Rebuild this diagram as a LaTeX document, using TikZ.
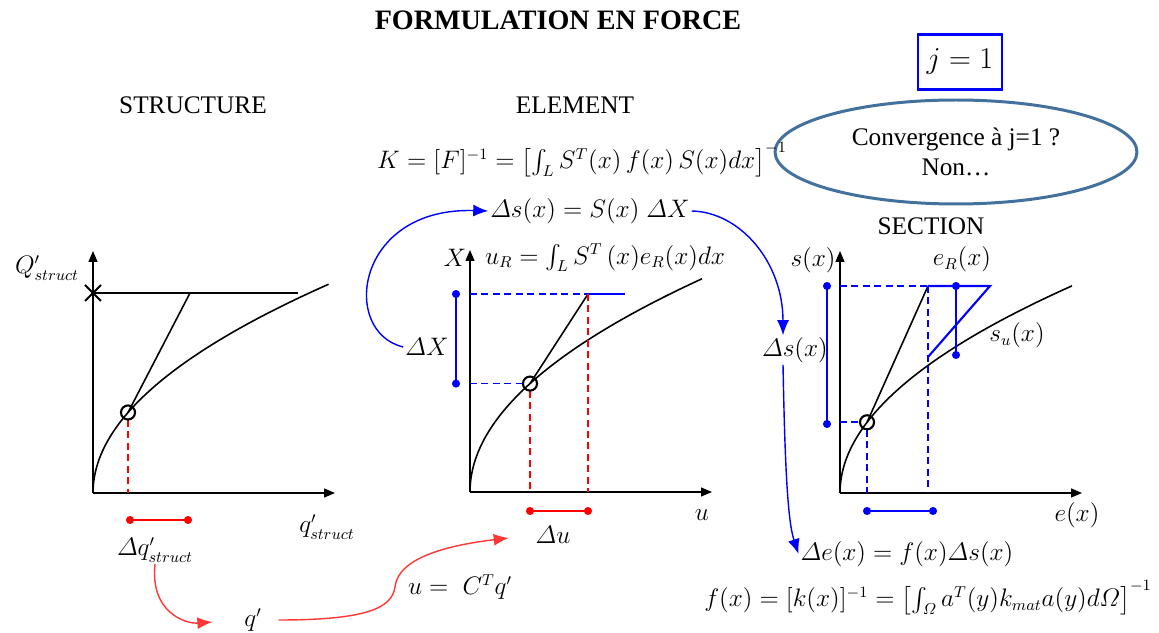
\documentclass[tikz,border=0pt]{standalone}
\usepackage{amsmath,amssymb}
\usepackage{fontspec}
\setmainfont{Liberation Serif}
\usepackage{tikz}
\usetikzlibrary{arrows.meta,shapes.geometric,positioning}
\definecolor{ellblue}{RGB}{65,113,156}
\definecolor{arrred}{RGB}{255,55,55}

\begin{document}
\begin{tikzpicture}[x=0.02cm,y=0.02cm,
  ax/.style={-{Triangle[length=2.2mm,width=1.8mm]},line width=0.8pt},
  crv/.style={line width=0.9pt},
  bdash/.style={blue,line width=1pt,dash pattern=on 4pt off 2.5pt},
  rdash/.style={red,line width=1pt,dash pattern=on 4pt off 2.5pt},
  bbar/.style={blue,line width=1.2pt},
  rbar/.style={red,line width=1.2pt},
  lbl/.style={font=\fontsize{13.5}{17}\selectfont,inner sep=1pt},
  txt/.style={font=\fontsize{14.4}{17.5}\selectfont,inner sep=1pt},
  barr/.style={-{Latex[length=3mm,width=2.4mm]},blue,line width=0.8pt},
  rarr/.style={-{Latex[length=3mm,width=2.4mm]},arrred,line width=0.8pt}]
  \useasboundingbox (0,0) rectangle (1159,632);
  %% titles
  \node[font=\fontsize{16}{19}\selectfont\bfseries] (title) at (558,612) {FORMULATION EN FORCE};
  \node[txt] (structure) at (193,527) {STRUCTURE};
  \node[txt] (element) at (575,527) {ELEMENT};
  \node[txt] (section) at (931,406) {SECTION};
  \node[draw=blue,line width=1.2pt,minimum width=1.68cm,minimum height=1.1cm,
        font=\fontsize{19}{22}\selectfont] (jbox) at (960,570) {$j=1$};
  \node[txt,ellipse,draw=ellblue,line width=1.7pt,minimum width=7.24cm,minimum height=2.08cm,
        align=center] (conv) at (956,480) {Convergence à j=1 ?\\Non\ldots};
  \node[lbl] (Kform) at (582,472) {$K=[F]^{-1}=\bigl[\int_L S^T(x)\,f(x)\,S(x)dx\bigr]^{-1}$};
  \node[lbl] (dsform) at (590,421) {$\varDelta s(x)=S(x)\;\varDelta X$};

  %% Structure
  \begin{scope}[shift={(93,139)}]
    \draw[ax] (0,0)--(0,242);
    \draw[ax] (0,0)--(242,0);
    % plateau
    \draw[crv] (0,200)--(205,200);
    % loi globale
    \draw[crv] plot[domain=0:15.35,samples=40,smooth] ({\x*\x},{13.6*\x});
    % tangente
    \draw[crv] (35,80.5)--(97,200);
    \draw[rdash] (35,73)--(35,0);
    \draw[line width=1.2pt] (35,80.5) circle (4pt);
    \draw[line width=1.1pt] (-8,192)--(8,208) (-8,208)--(8,192);
    % increment
    \draw[rbar] (37,-27)--(95,-27);
    \fill[red] (37,-27) circle (2.3pt) (95,-27) circle (2.3pt);
    \node[lbl] (Qs) at (-46,225) {$Q'_{struct}$};
    \node[lbl] (qs) at (234,-34) {$q'_{struct}$};
    \node[lbl] (dq) at (62,-57) {$\varDelta q'_{struct}$};
  \end{scope}

  %% Element
  \begin{scope}[shift={(470,140)}]
    \draw[ax] (0,0)--(0,242);
    \draw[ax] (0,0)--(242,0);
    \draw[crv] plot[domain=0:15.23,samples=40,smooth] ({\x*\x},{14*\x});
    \draw[crv] (60,108.4)--(118,198);
    % effort
    \draw[bdash] (0,198)--(118,198);
    \draw[bbar] (118,198)--(155,198);
    \draw[bdash] (0,108.4)--(53,108.4);
    \draw[bbar] (-14,108.4)--(-14,198);
    \fill[blue] (-14,108.4) circle (2.3pt) (-14,198) circle (2.3pt);
    % deplacement
    \draw[rdash] (60,101)--(60,0);
    \draw[rdash] (118,198)--(118,0);
    \draw[rbar] (60,-19)--(118,-19);
    \fill[red] (60,-19) circle (2.3pt) (118,-19) circle (2.3pt);
    \draw[line width=1.2pt] (60,108.4) circle (4pt);
    \node[lbl] (X) at (-15,234) {$X$};
    \node[lbl] (uR) at (135,234) {$u_R=\int_L S^T\,(x)e_R(x)dx$};
    \node[lbl] (dX) at (-43,145) {$\varDelta X$};
    \node[lbl] (du) at (83,-43) {$\varDelta u$};
    \node[lbl] (u) at (232,-23) {$u$};
  \end{scope}

  %% Section
  \begin{scope}[shift={(840,139)}]
    \draw[ax] (0,0)--(0,242);
    \draw[ax] (0,0)--(242,0);
    \draw[crv] plot[domain=0:15.23,samples=40,smooth] ({\x*\x},{13.6*\x});
    \draw[crv] (27,70.7)--(88,207);
    \draw[bdash] (0,207)--(88,207);
    \draw[bbar] (88,207)--(150,207)--(88,136);
    \draw[bbar] (116,207)--(116,138);
    \fill[blue] (116,207) circle (2.3pt) (116,138) circle (2.3pt);
    \draw[bdash] (0,70.7)--(20,70.7);
    \draw[bdash] (27,63)--(27,0);
    \draw[bdash] (88,207)--(88,0);
    \draw[bbar] (-13,207)--(-13,69);
    \fill[blue] (-13,207) circle (2.3pt) (-13,69) circle (2.3pt);
    \draw[bbar] (27,-18)--(93,-18);
    \fill[blue] (27,-18) circle (2.3pt) (93,-18) circle (2.3pt);
    \draw[line width=1.2pt] (27,70.7) circle (4pt);
    \node[lbl] (sx) at (-27,233) {$s(x)$};
    \node[lbl] (eR) at (122,234) {$e_R(x)$};
    \node[lbl] (su) at (177,158) {$s_u(x)$};
    \node[lbl] (ex) at (237,-22) {$e(x)$};
    \node[lbl] (dss) at (-45,143) {$\varDelta s(x)$};
  \end{scope}

  \node[lbl] (deform) at (907,78) {$\varDelta e(x)=f(x)\varDelta s(x)$};
  \node[lbl] (fform) at (928,34) {$f(x)=[k(x)]^{-1}=\bigl[\int_{\varOmega} a^T(y)k_{mat}a(y)d\varOmega\bigr]^{-1}$};
  \node[lbl] (qp) at (253,12) {$q'$};
  \node[lbl] (uform) at (460,45) {$u=\;C^Tq'$};

  %% fleches
  \draw[barr] (dX.west) .. controls (340,300) and (355,425) .. (dsform.west);
  \draw[barr] (dsform.east) .. controls (740,420) and (783,370) .. ([xshift=-0.24cm]dss.north);
  \draw[barr] ([xshift=-0.24cm]dss.south) .. controls (785,160) and (788,110) .. (deform.west);
  \draw[rarr,shorten >=0.6cm] (dq.south) .. controls (150,20) and (185,8) .. (qp.west);
  \draw[rarr,shorten <=0.3cm,shorten >=0.5cm] (qp.east) .. controls (370,12) and (392,25) .. (395,45)
    .. controls (398,75) and (450,87) .. (du.west);
\end{tikzpicture}
\end{document}
